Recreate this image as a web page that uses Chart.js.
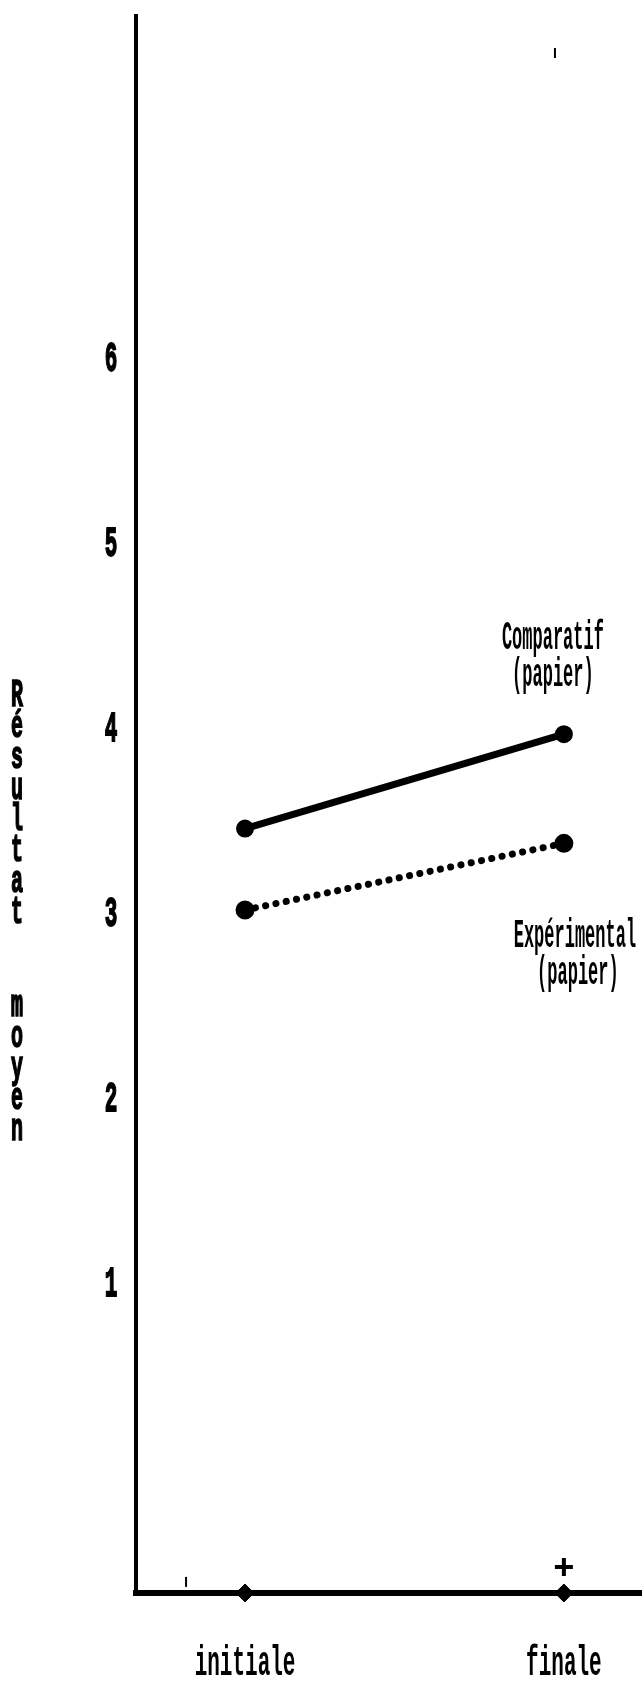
<!DOCTYPE html>
<html>
<head>
<meta charset="utf-8">
<script src="https://cdn.jsdelivr.net/npm/chart.js@4.4.1/dist/chart.umd.min.js"></script>
<style>
  html, body { margin: 0; padding: 0; background: #fff; }
  #wrap { position: relative; width: 642px; height: 1682px; }
</style>
</head>
<body>
<div id="wrap"><canvas id="chart"></canvas></div>
<script>
// ── Data ─────────────────────────────────────────────────────────────────────
const phases       = ['initiale', 'finale'];
const phaseX       = [0, 1];
const comparatif   = [3.47, 3.98];
const experimental = [3.03, 3.39];
const yTicks       = [1, 2, 3, 4, 5, 6];
const yTitle       = ['R', 'é', 's', 'u', 'l', 't', 'a', 't', '', '', 'm', 'o', 'y', 'e', 'n'];
const labelComparatif   = ['Comparatif', '(papier)'];
const labelExperimental = ['Expérimental', '(papier)'];

// axis ranges and stray marks on the original print
const Y_MIN = -0.66, Y_MAX = 7.86;
const X_MIN = -0.342, X_MAX = 1.245;
const baseMarksX = [0, 1];
const crossMark  = { x: 1, y: -0.52 };
const tickMarks  = [{ x: -0.185, y: -0.60 }, { x: 0.972, y: 7.66 }];

const FONT = '"Liberation Mono", "DejaVu Sans Mono", monospace';

// ── Stretched typewriter text ────────────────────────────────────────────────
function stretchText(ctx, txt, x, y, size, sy, weight, ink) {
  ctx.save();
  ctx.translate(x, y);
  ctx.scale(1, sy);
  ctx.font = weight + ' ' + size + 'px ' + FONT;
  ctx.fillStyle = '#000';
  ctx.strokeStyle = '#000';
  ctx.lineWidth = ink;
  ctx.textAlign = 'center';
  ctx.textBaseline = 'middle';
  ctx.fillText(txt, 0, 0);
  if (ink > 0) ctx.strokeText(txt, 0, 0);
  ctx.restore();
}

const textPlugin = {
  id: 'typewriter',
  afterDraw(chart) {
    const { ctx, scales } = chart;
    const xs = scales.x, ys = scales.y;

    // y tick labels
    ys.ticks.forEach(t => stretchText(ctx, String(t.value), 111, ys.getPixelForValue(t.value), 21, 2.0, 'bold', 0.9));
    // x tick labels
    xs.ticks.forEach((t, i) => stretchText(ctx, phases[i], xs.getPixelForValue(t.value), 1664, 21, 2.0, 'bold', 0));

    // vertical axis title, one letter per line
    yTitle.forEach((ch, i) => { if (ch) stretchText(ctx, ch, 17, 696 + i * 31, 20, 1.9, 'bold', 0.9); });

    // series labels
    const xf = xs.getPixelForValue(phaseX[1]);
    const yc = ys.getPixelForValue(comparatif[1]);
    const ye = ys.getPixelForValue(experimental[1]);
    stretchText(ctx, labelComparatif[0], xf - 11, yc - 95, 17, 2.4, 'bold', 0);
    stretchText(ctx, labelComparatif[1], xf - 11, yc - 58, 17, 2.4, 'bold', 0);
    stretchText(ctx, labelExperimental[0], xf + 11, ye + 93, 17, 2.4, 'bold', 0);
    stretchText(ctx, labelExperimental[1], xf + 14, ye + 130, 17, 2.4, 'bold', 0);
  }
};

// ── Chart ────────────────────────────────────────────────────────────────────
new Chart(document.getElementById('chart'), {
  type: 'line',
  data: {
    datasets: [
      {
        label: 'Comparatif (papier)',
        data: phaseX.map((x, i) => ({ x, y: comparatif[i] })),
        borderColor: '#000', backgroundColor: '#000',
        borderWidth: 7, borderCapStyle: 'round',
        pointRadius: 5.5, pointStyle: 'circle',
      },
      {
        label: 'Expérimental (papier)',
        data: phaseX.map((x, i) => ({ x, y: experimental[i] })),
        borderColor: '#000', backgroundColor: '#000',
        borderWidth: 7, borderCapStyle: 'round', borderDash: [0.1, 10.4],
        pointRadius: 6, pointStyle: 'circle',
      },
      {
        label: 'repères',
        data: baseMarksX.map(x => ({ x, y: Y_MIN })),
        showLine: false, clip: false,
        pointStyle: 'rectRot', pointRadius: 9,
        borderColor: '#000', backgroundColor: '#000',
      },
      {
        label: 'croix',
        data: [crossMark],
        showLine: false, clip: false,
        pointStyle: 'cross', pointRadius: 9, borderWidth: 4,
        borderColor: '#000',
      },
      {
        label: 'traits',
        data: tickMarks,
        showLine: false, clip: false,
        pointStyle: 'line', rotation: 90, pointRadius: 5, borderWidth: 2,
        borderColor: '#000',
      },
    ],
  },
  options: {
    responsive: true, maintainAspectRatio: false, animation: false,
    layout: { padding: { top: 16, right: 0, bottom: 0, left: 0 }, autoPadding: false },
    plugins: { legend: { display: false }, tooltip: { enabled: false } },
    scales: {
      x: {
        type: 'linear', min: X_MIN, max: X_MAX,
        grid: { display: false, drawTicks: false },
        border: { display: true, color: '#000', width: 6 },
        ticks: { display: false },
        afterBuildTicks: s => { s.ticks = phaseX.map(v => ({ value: v })); },
        afterFit: s => { s.height = 89; },
      },
      y: {
        type: 'linear', min: Y_MIN, max: Y_MAX,
        grid: { display: false, drawTicks: false },
        border: { display: true, color: '#000', width: 4 },
        ticks: { display: false },
        afterBuildTicks: s => { s.ticks = yTicks.map(v => ({ value: v })); },
        afterFit: s => { s.width = 136; },
      },
    },
  },
  plugins: [textPlugin],
});
</script>
</body>
</html>
